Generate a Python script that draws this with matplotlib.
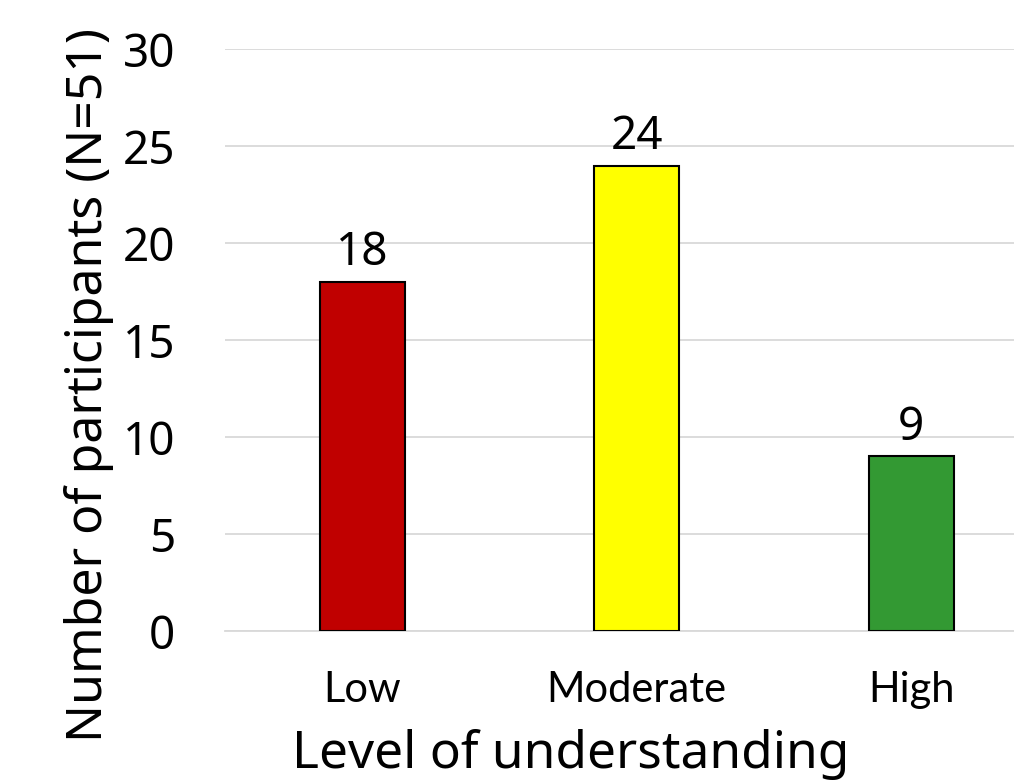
import matplotlib
matplotlib.use("Agg")
import matplotlib.pyplot as plt

levels = ["Low", "Moderate", "High"]
counts = [18, 24, 9]
bar_colors = ["#C00000", "#FFFF00", "#339933"]
yticks = [0, 5, 10, 15, 20, 25, 30]

NUM_FONT = ["Noto Sans", "DejaVu Sans"]
NUM_WEIGHT = "light"
CAT_FONT = ["Lato", "DejaVu Sans"]

fig = plt.figure(figsize=(10.14, 7.8), dpi=100)
fig.patch.set_facecolor("white")
ax = fig.add_axes([0.2219, 0.191, 0.812, 0.746])

x = range(len(levels))
ax.bar(x, counts, width=0.31, color=bar_colors, edgecolor="black",
       linewidth=1.5, zorder=3)
for xi, c in zip(x, counts):
    ax.text(xi, c + 0.3, str(c), ha="center", va="bottom",
            fontsize=33, family=NUM_FONT, fontweight=NUM_WEIGHT)

ax.set_xlim(-0.5, 2.5)
ax.set_ylim(0, 30)
ax.set_yticks(yticks)
ax.set_yticklabels([str(t) for t in yticks], fontsize=33, family=NUM_FONT,
                   fontweight=NUM_WEIGHT)
ax.set_xticks(list(x))
ax.set_xticklabels(levels, fontsize=30, family=CAT_FONT)
ax.tick_params(axis="y", length=0, pad=36)
ax.tick_params(axis="x", length=0, pad=29)
ax.grid(axis="y", color="#D9D9D9", lw=1.3, zorder=0)
ax.set_axisbelow(True)
for s in ["top", "right", "left"]:
    ax.spines[s].set_visible(False)
ax.spines["bottom"].set_color("#D9D9D9")
ax.spines["bottom"].set_linewidth(1.3)

ax.set_ylabel("Number of participants (N=51)", fontsize=36, family=NUM_FONT,
              fontweight=NUM_WEIGHT)
ax.yaxis.set_label_coords(-0.135, 0.423)
ax.set_xlabel("Level of understanding", fontsize=37, family=NUM_FONT,
              fontweight=NUM_WEIGHT)
ax.xaxis.set_label_coords(0.42, -0.168)

fig.savefig("out.png", dpi=100)
